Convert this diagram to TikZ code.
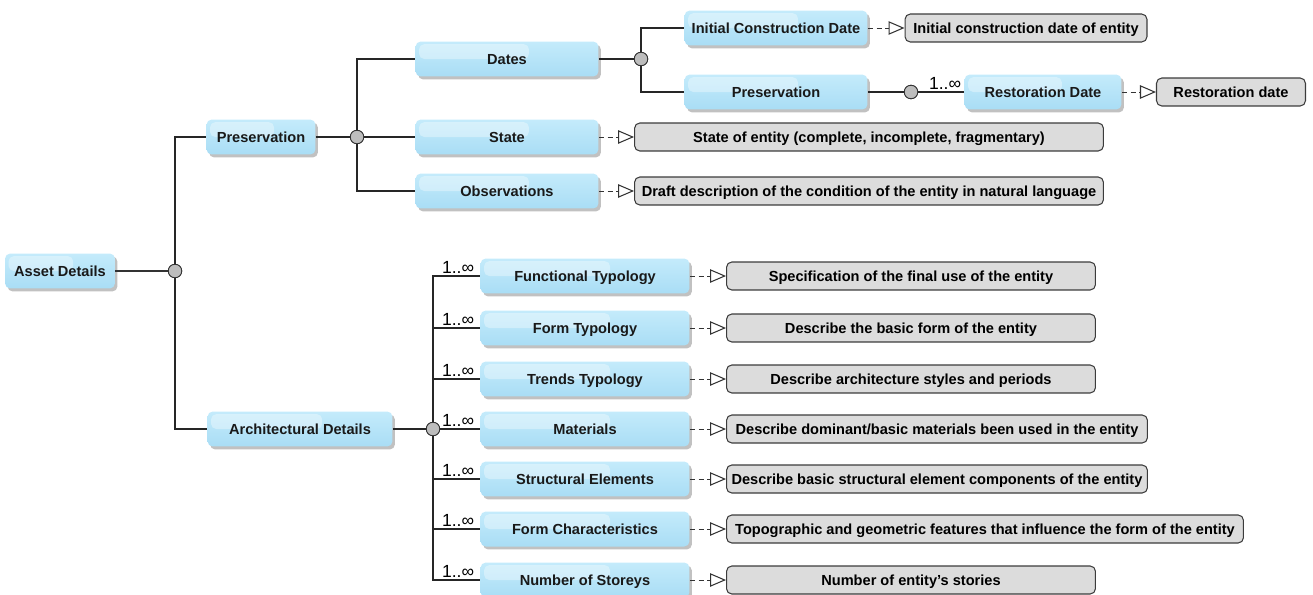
\documentclass[tikz,border=0pt]{standalone}
\usepackage{fontspec}
\setmainfont{Liberation Sans}
\usetikzlibrary{arrows.meta,shadows,calc}

\definecolor{AttrTop}{HTML}{C4EBFB}
\definecolor{AttrBot}{HTML}{A9DDF5}
\definecolor{DescBg}{HTML}{DCDCDC}
\definecolor{DescFrame}{HTML}{3C3C3C}
\definecolor{JointFill}{HTML}{BDBDBD}

\begin{document}
\begin{tikzpicture}[
  x=0.02cm, y=-0.02cm,
  font=\fontsize{8.3}{10}\selectfont\bfseries,
  attr/.style={rounded corners=3pt, top color=AttrTop, bottom color=AttrBot,
    draw=none, minimum height=0.7cm, inner sep=0pt, text=black!90,
    text height=6pt, text depth=0pt,
    drop shadow={shadow xshift=0.05cm, shadow yshift=-0.06cm, opacity=0.35, fill=black!70},
    path picture={
      \fill[white, opacity=0.35, rounded corners=3pt]
        ([shift={(2pt,-1.5pt)}]path picture bounding box.north west) rectangle
        ($(path picture bounding box.west)!0.62!(path picture bounding box.east)$);
    }},
  desc/.style={rounded corners=3pt, fill=DescBg, draw=DescFrame, line width=0.6pt,
    minimum height=0.56cm, inner sep=0pt, text height=6pt, text depth=0pt},
  joint/.style={circle, fill=JointFill, draw=black!80, line width=0.5pt,
    minimum size=0.27cm, inner sep=0pt},
  tree/.style={line width=1.1pt, black!85},
  realize/.style={densely dashed, line width=0.5pt, black!80,
    -{Triangle[open, length=0.32cm, width=0.27cm, line width=0.6pt]}},
  mult/.style={font=\fontsize{10}{11}\selectfont, anchor=south east, inner sep=1pt},
]
\useasboundingbox (0,0) rectangle (1313,595);

% ── root ──
\node[attr, minimum width=2.2cm] (asset) at (60,271) {Asset Details};
\node[joint] (j0) at (175,271) {};

% ── preservation branch ──
\node[attr, minimum width=2.18cm] (pres) at (261,137) {Preservation};
\node[joint] (j1) at (357,137) {};
\node[attr, minimum width=3.66cm] (dates) at (507,59) {Dates};
\node[attr, minimum width=3.66cm] (state) at (507,137) {State};
\node[attr, minimum width=3.66cm] (obs) at (507,191) {Observations};
\node[joint] (j2) at (641,59) {};
\node[attr, minimum width=3.66cm] (initdate) at (776,28) {Initial Construction Date};
\node[attr, minimum width=3.66cm] (presdate) at (776,92) {Preservation};
\node[joint] (j3) at (911,92) {};
\node[attr, minimum width=3.14cm] (restdate) at (1043,92) {Restoration Date};

\node[desc, minimum width=4.84cm] (initdesc) at (1026,28) {Initial construction date of entity};
\node[desc, minimum width=2.98cm] (restdesc) at (1231,92) {Restoration date};
\node[desc, minimum width=9.38cm] (statedesc) at (869,137) {State of entity (complete, incomplete, fragmentary)};
\node[desc, minimum width=9.38cm] (obsdesc) at (869,191) {Draft description of the condition of the entity in natural language};

% ── architectural branch ──
\node[attr, minimum width=3.7cm] (arch) at (300,429) {Architectural Details};
\node[joint] (j4) at (433,429) {};
\node[attr, minimum width=4.18cm] (functyp) at (585,276) {Functional Typology};
\node[attr, minimum width=4.18cm] (formtyp) at (585,328) {Form Typology};
\node[attr, minimum width=4.18cm] (trendtyp) at (585,379) {Trends Typology};
\node[attr, minimum width=4.18cm] (material) at (585,429) {Materials};
\node[attr, minimum width=4.18cm] (structel) at (585,479) {Structural Elements};
\node[attr, minimum width=4.18cm] (formchar) at (585,529) {Form Characteristics};
\node[attr, minimum width=4.18cm] (storeys) at (585,580) {Number of Storeys};

\node[desc, minimum width=7.38cm] (funcdesc) at (911,276) {Specification of the final use of the entity};
\node[desc, minimum width=7.38cm] (formdesc) at (911,328) {Describe the basic form of the entity};
\node[desc, minimum width=7.38cm] (trenddesc) at (911,379) {Describe architecture styles and periods};
\node[desc, minimum width=8.42cm] (matdesc) at (937,429) {Describe dominant/basic materials been used in the entity};
\node[desc, minimum width=8.42cm] (structdesc) at (937,479) {Describe basic structural element components of the entity};
\node[desc, minimum width=10.34cm] (chardesc) at (985,529) {Topographic and geometric features that influence the form of the entity};
\node[desc, minimum width=7.38cm] (storeydesc) at (911,580) {Number of entity's stories};

% ── tree connectors ──
\draw[line width=0.6pt, black!80] (asset.east) -- (j0);
\draw[tree] (j0) |- (pres.west);
\draw[tree] (j0) |- (arch.west);
\draw[tree] (pres.east) -- (j1);
\draw[tree] (j1) |- (dates.west);
\draw[tree] (j1) -- (state.west);
\draw[tree] (j1) |- (obs.west);
\draw[tree] (dates.east) -- (j2);
\draw[tree] (j2) |- (initdate.west);
\draw[tree] (j2) |- (presdate.west);
\draw[tree] (presdate.east) -- (j3);
\draw[tree] (j3) -- (restdate.west);
\node[mult] at ([xshift=-0.02cm]restdate.west) {1..∞};
\draw[tree] (arch.east) -- (j4);
\foreach \item in {functyp,formtyp,trendtyp,material,structel,formchar,storeys}{
  \draw[tree] (j4) |- (\item.west);
  \node[mult] at ([xshift=-0.08cm]\item.west) {1..∞};
}

% ── joints on top ──
\foreach \j in {j0,j1,j2,j3,j4}
  \node[joint] at (\j) {};

% ── realizations ──
\draw[realize] (initdate.east) -- (initdesc.west);
\draw[realize] (restdate.east) -- (restdesc.west);
\draw[realize] (state.east) -- (statedesc.west);
\draw[realize] (obs.east) -- (obsdesc.west);
\draw[realize] (functyp.east) -- (funcdesc.west);
\draw[realize] (formtyp.east) -- (formdesc.west);
\draw[realize] (trendtyp.east) -- (trenddesc.west);
\draw[realize] (material.east) -- (matdesc.west);
\draw[realize] (structel.east) -- (structdesc.west);
\draw[realize] (formchar.east) -- (chardesc.west);
\draw[realize] (storeys.east) -- (storeydesc.west);

\end{tikzpicture}
\end{document}
